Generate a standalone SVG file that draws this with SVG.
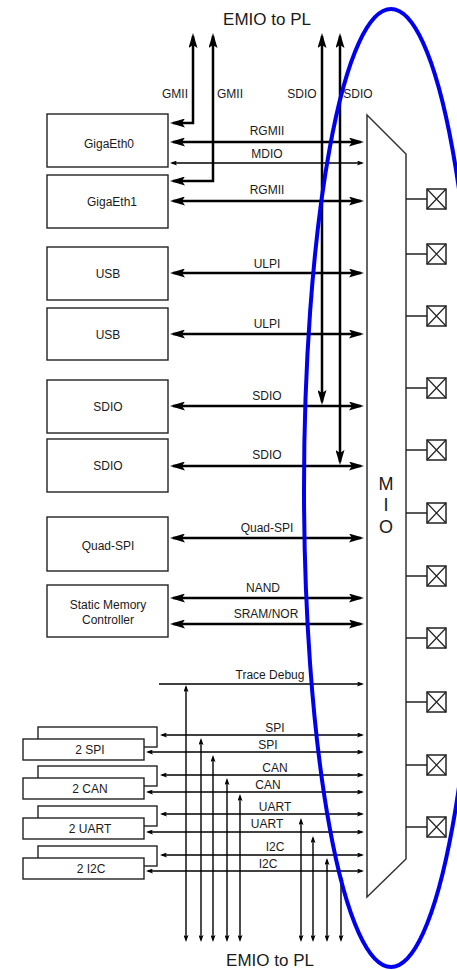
<svg xmlns="http://www.w3.org/2000/svg" width="457" height="970" viewBox="0 0 457 970">
<style>
text{font-family:"Liberation Sans",Arial,sans-serif;fill:#1a1a1a;text-anchor:middle}
.t12{font-size:12px}
.t17{font-size:17px}
.t18{font-size:18px}
.box{fill:#fff;stroke:#222;stroke-width:1.4}
.big{fill:none;stroke:#000;stroke-width:2.5;marker-start:url(#ab);marker-end:url(#ab)}
.thin{fill:none;stroke:#000;stroke-width:1.4;marker-start:url(#as);marker-end:url(#as)}
.thinE{fill:none;stroke:#000;stroke-width:1.4;marker-end:url(#as)}
.pad{fill:#fff;stroke:#222;stroke-width:1.5}
.padx{stroke:#222;stroke-width:1.2}
.padl{stroke:#222;stroke-width:1.5}
</style>
<defs>
<marker id="ab" markerUnits="userSpaceOnUse" markerWidth="15" markerHeight="9" viewBox="0 0 15 9" refX="12" refY="4.5" orient="auto-start-reverse"><path d="M0,0 L15,4.5 L0,9 L3,4.5 Z" fill="#000"/></marker>
<marker id="as" markerUnits="userSpaceOnUse" markerWidth="7" markerHeight="5" viewBox="0 0 7 5" refX="5" refY="2.5" orient="auto-start-reverse"><path d="M0,0 L7,2.5 L0,5 L1.5,2.5 Z" fill="#000"/></marker>
</defs>
<rect width="457" height="970" fill="#fff"/>

<text class="t17" x="267" y="25">EMIO to PL</text>
<text class="t17" x="270" y="966">EMIO to PL</text>

<g id="mio">
<polygon points="367,115 406,154 406,859 367,897" fill="#fff" stroke="#333" stroke-width="1.5"/>
<text class="t18" x="386" y="490">M</text>
<text class="t18" x="386" y="511">I</text>
<text class="t18" x="386" y="533">O</text>
</g>

<g id="pads">
<g id="pad1"><line class="padl" x1="406" y1="199" x2="427" y2="199"/><rect class="pad" x="427" y="189" width="19" height="20"/><path class="padx" d="M427,189 L446,209 M446,189 L427,209"/></g>
<g id="pad2"><line class="padl" x1="406" y1="254" x2="427" y2="254"/><rect class="pad" x="427" y="244" width="19" height="20"/><path class="padx" d="M427,244 L446,264 M446,244 L427,264"/></g>
<g id="pad3"><line class="padl" x1="406" y1="316" x2="427" y2="316"/><rect class="pad" x="427" y="306" width="19" height="20"/><path class="padx" d="M427,306 L446,326 M446,306 L427,326"/></g>
<g id="pad4"><line class="padl" x1="406" y1="388" x2="427" y2="388"/><rect class="pad" x="427" y="378" width="19" height="20"/><path class="padx" d="M427,378 L446,398 M446,378 L427,398"/></g>
<g id="pad5"><line class="padl" x1="406" y1="450" x2="427" y2="450"/><rect class="pad" x="427" y="440" width="19" height="20"/><path class="padx" d="M427,440 L446,460 M446,440 L427,460"/></g>
<g id="pad6"><line class="padl" x1="406" y1="513" x2="427" y2="513"/><rect class="pad" x="427" y="503" width="19" height="20"/><path class="padx" d="M427,503 L446,523 M446,503 L427,523"/></g>
<g id="pad7"><line class="padl" x1="406" y1="576" x2="427" y2="576"/><rect class="pad" x="427" y="566" width="19" height="20"/><path class="padx" d="M427,566 L446,586 M446,566 L427,586"/></g>
<g id="pad8"><line class="padl" x1="406" y1="638" x2="427" y2="638"/><rect class="pad" x="427" y="628" width="19" height="20"/><path class="padx" d="M427,628 L446,648 M446,628 L427,648"/></g>
<g id="pad9"><line class="padl" x1="406" y1="702" x2="427" y2="702"/><rect class="pad" x="427" y="692" width="19" height="20"/><path class="padx" d="M427,692 L446,712 M446,692 L427,712"/></g>
<g id="pad10"><line class="padl" x1="406" y1="765" x2="427" y2="765"/><rect class="pad" x="427" y="755" width="19" height="20"/><path class="padx" d="M427,755 L446,775 M446,755 L427,775"/></g>
<g id="pad11"><line class="padl" x1="406" y1="827" x2="427" y2="827"/><rect class="pad" x="427" y="817" width="19" height="20"/><path class="padx" d="M427,817 L446,837 M446,817 L427,837"/></g>
</g>

<g id="gigaeth0"><rect class="box" x="47" y="114" width="121" height="53"/><text class="t12" x="109" y="148">GigaEth0</text></g>
<g id="gigaeth1"><rect class="box" x="47" y="175" width="121" height="53"/><text class="t12" x="112" y="206">GigaEth1</text></g>
<g id="usb0"><rect class="box" x="47" y="247" width="121" height="53"/><text class="t12" x="108" y="278">USB</text></g>
<g id="usb1"><rect class="box" x="47" y="308" width="121" height="52"/><text class="t12" x="108" y="339">USB</text></g>
<g id="sdio0"><rect class="box" x="47" y="380" width="121" height="53"/><text class="t12" x="108" y="411">SDIO</text></g>
<g id="sdio1"><rect class="box" x="47" y="439" width="121" height="53"/><text class="t12" x="108" y="470">SDIO</text></g>
<g id="qspi"><rect class="box" x="47" y="517" width="121" height="54"/><text class="t12" x="108" y="550">Quad-SPI</text></g>
<g id="smc"><rect class="box" x="47" y="585" width="121" height="52"/><text class="t12" x="108" y="609">Static Memory</text><text class="t12" x="108" y="624">Controller</text></g>

<g id="spi"><rect class="box" x="38" y="727" width="119" height="20"/><rect class="box" x="23" y="739" width="121" height="21"/><text class="t12" x="90" y="754">2 SPI</text></g>
<g id="can"><rect class="box" x="38" y="766" width="119" height="20"/><rect class="box" x="23" y="778" width="121" height="21"/><text class="t12" x="90" y="793">2 CAN</text></g>
<g id="uart"><rect class="box" x="38" y="806" width="119" height="20"/><rect class="box" x="23" y="818" width="121" height="21"/><text class="t12" x="90" y="833">2 UART</text></g>
<g id="i2c"><rect class="box" x="38" y="846" width="119" height="20"/><rect class="box" x="23" y="858" width="121" height="21"/><text class="t12" x="91" y="873">2 I2C</text></g>

<g id="connectors">
<path class="big" d="M193,36 V123 H173"/>
<path class="big" d="M213,36 V181 H173"/>
<path class="big" d="M322,36 V402"/>
<path class="big" d="M340,36 V462"/>
<path class="big" d="M173,142 H361"/>
<path class="thin" d="M172,163 H362"/>
<path class="big" d="M173,201 H361"/>
<path class="big" d="M173,273 H361"/>
<path class="big" d="M173,334 H361"/>
<path class="big" d="M173,406 H361"/>
<path class="big" d="M173,466 H361"/>
<path class="big" d="M173,538 H361"/>
<path class="big" d="M173,598 H361"/>
<path class="big" d="M173,624 H361"/>

<path class="thinE" d="M159,684 H362"/>
<path class="thin" d="M162,735 H362"/>
<path class="thin" d="M148,752 H362"/>
<path class="thin" d="M162,775 H362"/>
<path class="thin" d="M148,792 H362"/>
<path class="thin" d="M162,814 H362"/>
<path class="thin" d="M148,832 H362"/>
<path class="thin" d="M162,855 H362"/>
<path class="thin" d="M148,871 H362"/>

<path class="thin" d="M186,687 V940"/>
<path class="thin" d="M201,740 V940"/>
<path class="thin" d="M213,757 V940"/>
<path class="thin" d="M227,780 V940"/>
<path class="thin" d="M240,796 V940"/>
<path class="thin" d="M301,820 V940"/>
<path class="thin" d="M313,838 V940"/>
<path class="thin" d="M327,860 V940"/>
<path class="thin" d="M341,876 V940"/>

<text class="t12" x="175" y="98">GMII</text>
<text class="t12" x="230" y="98">GMII</text>
<text class="t12" x="302" y="98">SDIO</text>
<text class="t12" x="358" y="98">SDIO</text>
<text class="t12" x="267" y="135">RGMII</text>
<text class="t12" x="267" y="158">MDIO</text>
<text class="t12" x="267" y="194">RGMII</text>
<text class="t12" x="267" y="268">ULPI</text>
<text class="t12" x="267" y="328">ULPI</text>
<text class="t12" x="267" y="400">SDIO</text>
<text class="t12" x="267" y="459">SDIO</text>
<text class="t12" x="267" y="532">Quad-SPI</text>
<text class="t12" x="263" y="592">NAND</text>
<text class="t12" x="266" y="618">SRAM/NOR</text>
<text class="t12" x="270" y="679">Trace Debug</text>
<text class="t12" x="275" y="732">SPI</text>
<text class="t12" x="268" y="749">SPI</text>
<text class="t12" x="275" y="772">CAN</text>
<text class="t12" x="268" y="789">CAN</text>
<text class="t12" x="275" y="811">UART</text>
<text class="t12" x="267" y="828">UART</text>
<text class="t12" x="275" y="851">I2C</text>
<text class="t12" x="268" y="868">I2C</text>
</g>

<ellipse cx="391" cy="488" rx="87" ry="479" fill="none" stroke="#0000f0" stroke-width="4"/>
</svg>
